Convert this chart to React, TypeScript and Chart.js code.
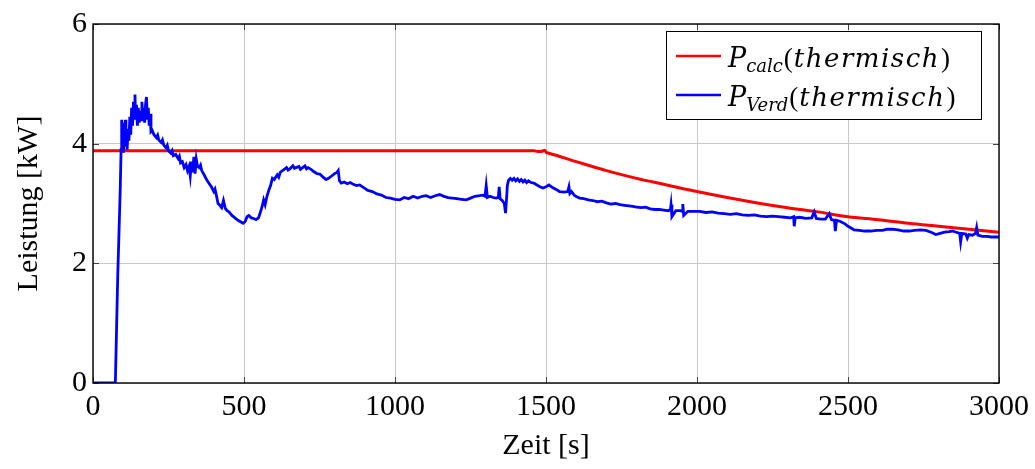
import React, { useEffect, useRef } from "react";
import { Chart, registerables } from "chart.js";

Chart.register(...registerables);

// Calculated thermal power [s, kW]
const calcSamples: [number, number][] = [
  [0, 3.88], [1460, 3.88], [1472, 3.87], [1482, 3.87], [1490, 3.88], [1495, 3.89], [1502, 3.85],
  [1510, 3.84], [1600, 3.7], [1700, 3.55], [1800, 3.42], [1900, 3.31], [2000, 3.2],
  [2100, 3.1], [2200, 3.01], [2300, 2.93], [2400, 2.86], [2500, 2.78], [2600, 2.73],
  [2700, 2.67], [2800, 2.62], [2900, 2.57], [3000, 2.52],
];

// Measured evaporator thermal power [s, kW]
const verdSamples: [number, number][] = [
  [0, 0], [74, 0], [78, 0.9], [82, 1.8], [86, 2.5], [90, 3.2], [93, 3.9], [95, 4.4], [97, 4.0],
  [99, 4.35], [101, 3.85], [103, 4.3], [105, 3.95], [107, 4.4], [109, 4.0], [111, 4.2], [113, 3.9],
  [116, 4.25], [119, 4.05], [122, 4.45], [125, 4.15], [128, 4.6], [131, 4.3], [134, 4.7], [137, 4.45],
  [139, 4.82], [141, 4.4], [144, 4.65], [147, 4.3], [150, 4.6], [153, 4.35], [156, 4.55], [159, 4.4],
  [162, 4.7], [165, 4.45], [168, 4.6], [171, 4.35], [174, 4.65], [177, 4.78], [180, 4.4], [183, 4.6],
  [186, 4.3], [189, 4.5], [192, 4.2], [196, 4.22], [202, 4.15], [210, 4.1], [214, 4.14], [218, 4.06],
  [226, 4.02], [230, 4.06], [234, 3.98], [242, 3.93], [246, 3.97], [250, 3.88], [258, 3.84], [262, 3.88],
  [266, 3.8], [274, 3.82], [282, 3.75], [286, 3.79], [290, 3.68], [296, 3.7], [302, 3.6], [308, 3.65],
  [313, 3.55], [318, 3.62], [322, 3.46], [326, 3.7], [330, 3.52], [334, 3.78], [338, 3.5], [342, 3.74],
  [346, 3.62], [352, 3.6], [356, 3.64], [360, 3.55], [368, 3.48], [376, 3.4], [384, 3.34], [392, 3.28],
  [400, 3.2], [404, 3.24], [408, 3.15], [414, 3.0], [420, 2.97], [426, 2.93], [432, 3.05], [438, 2.92],
  [444, 2.88], [450, 2.86], [460, 2.8], [470, 2.76], [480, 2.72], [490, 2.69], [497, 2.67],
  [504, 2.7], [510, 2.78], [516, 2.8], [524, 2.76], [532, 2.75], [540, 2.73], [548, 2.76], [554, 2.85],
  [560, 2.95], [565, 3.06], [570, 2.98], [576, 3.12], [582, 3.22], [588, 3.3], [594, 3.42], [600, 3.4],
  [610, 3.48], [615, 3.44], [620, 3.52], [630, 3.56], [641, 3.6], [646, 3.56], [652, 3.58], [662, 3.63],
  [667, 3.59], [672, 3.6], [682, 3.62], [687, 3.57], [692, 3.59], [702, 3.63], [707, 3.58], [712, 3.6],
  [722, 3.57], [732, 3.53], [742, 3.5], [752, 3.49], [762, 3.44], [772, 3.4], [780, 3.42], [790, 3.46],
  [800, 3.5], [808, 3.52], [812, 3.55], [816, 3.38], [822, 3.34], [832, 3.36], [842, 3.33], [852, 3.35],
  [862, 3.32], [872, 3.3], [883, 3.31], [895, 3.27], [910, 3.22], [925, 3.2], [940, 3.16], [955, 3.14],
  [970, 3.1], [985, 3.09], [1000, 3.07], [1016, 3.06], [1030, 3.1], [1045, 3.08], [1060, 3.12],
  [1075, 3.09], [1090, 3.12], [1103, 3.13], [1118, 3.1], [1133, 3.13], [1148, 3.15], [1162, 3.12],
  [1176, 3.1], [1190, 3.09], [1205, 3.08], [1220, 3.07], [1236, 3.06], [1250, 3.09], [1265, 3.12],
  [1280, 3.13], [1291, 3.14], [1298, 3.12], [1302, 3.3], [1306, 3.1], [1315, 3.12], [1325, 3.1],
  [1335, 3.09], [1342, 3.1], [1345, 3.28], [1348, 3.08], [1355, 3.05], [1362, 3.0], [1366, 2.84],
  [1369, 3.05], [1372, 3.3], [1376, 3.39], [1382, 3.42], [1388, 3.39], [1394, 3.42], [1400, 3.38],
  [1406, 3.41], [1412, 3.37], [1418, 3.4], [1424, 3.36], [1430, 3.39], [1436, 3.35], [1442, 3.38],
  [1450, 3.35], [1460, 3.34], [1470, 3.31], [1480, 3.28], [1490, 3.26], [1500, 3.28], [1510, 3.31],
  [1520, 3.27], [1532, 3.24], [1545, 3.2], [1560, 3.19], [1572, 3.2], [1576, 3.28], [1579, 3.17],
  [1584, 3.2], [1595, 3.13], [1611, 3.09], [1625, 3.08], [1640, 3.06], [1655, 3.05], [1670, 3.03],
  [1685, 3.04], [1700, 3.01], [1715, 2.99], [1730, 3.0], [1745, 2.98], [1760, 2.97], [1775, 2.96],
  [1787, 2.95], [1800, 2.94], [1815, 2.93], [1830, 2.94], [1845, 2.91], [1860, 2.9], [1876, 2.9],
  [1890, 2.89], [1905, 2.88], [1912, 2.9], [1914, 2.98], [1917, 2.78], [1930, 2.88], [1945, 2.88],
  [1951, 2.87], [1953, 2.99], [1956, 2.8], [1970, 2.87], [1990, 2.87], [2008, 2.87], [2030, 2.85],
  [2050, 2.86], [2070, 2.84], [2090, 2.83], [2110, 2.82], [2130, 2.83], [2150, 2.81], [2170, 2.8],
  [2190, 2.81], [2210, 2.79], [2230, 2.78], [2250, 2.79], [2270, 2.78], [2290, 2.77], [2310, 2.76],
  [2320, 2.78], [2322, 2.62], [2325, 2.76], [2340, 2.77], [2360, 2.75], [2380, 2.76], [2388, 2.86],
  [2395, 2.75], [2410, 2.74], [2425, 2.74], [2438, 2.83], [2445, 2.73], [2455, 2.72], [2458, 2.54],
  [2462, 2.72], [2475, 2.7], [2490, 2.66], [2500, 2.62], [2510, 2.59], [2520, 2.56], [2537, 2.55],
  [2555, 2.54], [2575, 2.54], [2595, 2.55], [2614, 2.55], [2630, 2.57], [2647, 2.57], [2665, 2.56],
  [2685, 2.54], [2703, 2.54], [2720, 2.55], [2740, 2.56], [2758, 2.55], [2775, 2.52], [2791, 2.48],
  [2805, 2.5], [2820, 2.52], [2835, 2.53], [2846, 2.54], [2858, 2.52], [2870, 2.5], [2873, 2.36],
  [2877, 2.5], [2890, 2.49], [2895, 2.42], [2900, 2.48], [2912, 2.47], [2922, 2.5], [2926, 2.6],
  [2930, 2.47], [2945, 2.45], [2960, 2.45], [2975, 2.44], [2990, 2.44], [3000, 2.44],
];

const xTicks = [0, 500, 1000, 1500, 2000, 2500, 3000];
const yTicks = [0, 2, 4, 6];

const SERIF = '"Liberation Serif", "DejaVu Serif", serif';
const LEGEND_FONT = '"DejaVu Serif", "Liberation Serif", serif';
const RED = "#ff0000";
const BLUE = "#0000ff";

// Legend entries: main symbol, subscript, argument
const legendEntries = [
  { color: RED, sym: "P", sub: "calc", arg: "thermisch" },
  { color: BLUE, sym: "P", sub: "Verd", arg: "thermisch" },
];

const framePlugin = {
  id: "pgfFrame",
  afterDatasetsDraw(chart: any) {
    const { ctx, chartArea: a, scales } = chart;
    ctx.save();
    // inward tick marks on all four sides
    ctx.strokeStyle = "#444";
    ctx.lineWidth = 1;
    const tl = 6;
    ctx.beginPath();
    for (const t of xTicks) {
      const px = Math.round(scales.x.getPixelForValue(t)) + 0.5;
      ctx.moveTo(px, a.bottom);
      ctx.lineTo(px, a.bottom - tl);
      ctx.moveTo(px, a.top);
      ctx.lineTo(px, a.top + tl);
    }
    for (const t of yTicks) {
      const py = Math.round(scales.y.getPixelForValue(t)) + 0.5;
      ctx.moveTo(a.left, py);
      ctx.lineTo(a.left + tl, py);
      ctx.moveTo(a.right, py);
      ctx.lineTo(a.right - tl, py);
    }
    ctx.stroke();
    // axis frame
    ctx.strokeStyle = "#000";
    ctx.lineWidth = 1.4;
    ctx.strokeRect(a.left, a.top, a.right - a.left, a.bottom - a.top);

    // legend box
    const bw = 315;
    const bh = 88;
    const bx = a.right - 18 - bw;
    const by = a.top + 7;
    ctx.fillStyle = "#fff";
    ctx.fillRect(bx, by, bw, bh);
    ctx.strokeStyle = "#000";
    ctx.lineWidth = 1;
    ctx.strokeRect(bx + 0.5, by + 0.5, bw, bh);

    legendEntries.forEach((e, i) => {
      const lineY = by + 25 + i * 39;
      const baseY = lineY + 11;
      ctx.strokeStyle = e.color;
      ctx.lineWidth = 2.6;
      ctx.beginPath();
      ctx.moveTo(bx + 10, lineY);
      ctx.lineTo(bx + 55, lineY);
      ctx.stroke();

      ctx.fillStyle = "#000";
      ctx.textBaseline = "alphabetic";
      ctx.textAlign = "left";
      let x = bx + 62;
      ctx.font = `italic 27px ${LEGEND_FONT}`;
      ctx.fillText(e.sym, x, baseY);
      x += ctx.measureText(e.sym).width;
      ctx.font = `italic 18px ${LEGEND_FONT}`;
      ctx.fillText(e.sub, x, baseY + 5);
      x += ctx.measureText(e.sub).width + 1;
      ctx.font = `27px ${SERIF}`;
      ctx.fillText("(", x, baseY);
      x += ctx.measureText("(").width + 1;
      ctx.font = `italic 26px ${LEGEND_FONT}`;
      (ctx as any).letterSpacing = "1.5px";
      ctx.fillText(e.arg, x, baseY);
      x += ctx.measureText(e.arg).width + 1;
      (ctx as any).letterSpacing = "0px";
      ctx.font = `27px ${SERIF}`;
      ctx.fillText(")", x, baseY);
    });
    ctx.restore();
  },
};

export default function App() {
  const canvasRef = useRef<HTMLCanvasElement | null>(null);

  useEffect(() => {
    document.body.style.margin = "0";
    const canvas = canvasRef.current;
    if (!canvas) return;
    const chart = new Chart(canvas, {
      type: "line",
      data: {
        datasets: [
          {
            label: "P_calc(thermisch)",
            data: calcSamples.map(([x, y]) => ({ x, y })),
            borderColor: RED,
            borderWidth: 3,
            pointRadius: 0,
            cubicInterpolationMode: "monotone",
            order: 2,
          },
          {
            label: "P_Verd(thermisch)",
            data: verdSamples.map(([x, y]) => ({ x, y })),
            borderColor: BLUE,
            borderWidth: 2.8,
            pointRadius: 0,
            tension: 0,
            order: 1,
          },
        ],
      },
      options: {
        animation: false,
        responsive: false,
        devicePixelRatio: 1,
        layout: { padding: { top: 21, right: 35, left: 0, bottom: 0 } },
        plugins: { legend: { display: false }, tooltip: { enabled: false } },
        scales: {
          x: {
            type: "linear",
            min: 0,
            max: 3000,
            afterBuildTicks: (s: any) => {
              s.ticks = xTicks.map((v) => ({ value: v }));
            },
            afterFit: (s: any) => {
              s.height = 86;
            },
            grid: { color: "#c8c8c8", lineWidth: 1, drawTicks: false },
            border: { display: false },
            ticks: {
              color: "#000",
              font: { family: SERIF, size: 30 },
              padding: 6,
              maxRotation: 0,
              callback: (v: any) => String(v),
            },
            title: {
              display: true,
              text: "Zeit [s]",
              color: "#000",
              font: { family: SERIF, size: 30 },
              padding: { top: 0, bottom: 5 },
            },
          },
          y: {
            type: "linear",
            min: 0,
            max: 6,
            afterBuildTicks: (s: any) => {
              s.ticks = yTicks.map((v) => ({ value: v }));
            },
            afterFit: (s: any) => {
              s.width = 93;
            },
            grid: { color: "#c8c8c8", lineWidth: 1, drawTicks: false },
            border: { display: false },
            ticks: {
              color: "#000",
              font: { family: SERIF, size: 30 },
              padding: 6,
              callback: (v: any) => String(v),
            },
            title: {
              display: true,
              text: "Leistung [kW]",
              color: "#000",
              font: { family: SERIF, size: 30 },
              padding: { top: 11, bottom: 0 },
            },
          },
        },
      },
      plugins: [framePlugin],
    } as any);
    return () => chart.destroy();
  }, []);

  return (
    <div style={{ width: 1035, height: 469 }}>
      <canvas ref={canvasRef} width={1035} height={469} />
    </div>
  );
}
